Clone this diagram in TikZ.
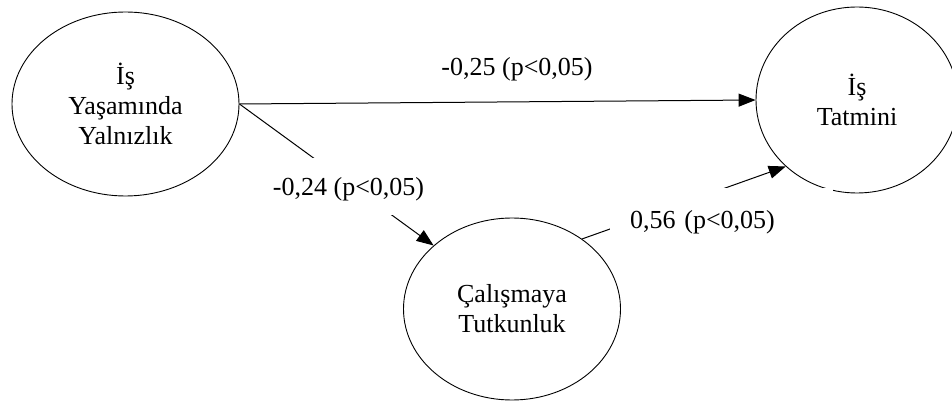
\documentclass[tikz,border=0pt]{standalone}
\usepackage{fontspec}
\setmainfont{Liberation Serif}
\usetikzlibrary{shapes.geometric,arrows.meta}
\tikzset{
  construct/.style={draw, line width=0.9pt, shape=ellipse, inner sep=0pt, align=center,
    font=\fontsize{26}{30}\selectfont},
  arr/.style={line width=1pt, -{Triangle[length=17pt,width=13pt]}},
  coef/.style={font=\fontsize{26}{30}\selectfont, inner sep=0pt},
  coefbox/.style={coef, fill=white, text height=21pt, text depth=2pt}
}
\begin{document}
\begin{tikzpicture}[x=1pt,y=-1pt]
\useasboundingbox (0,0) rectangle (952,403);
\node[construct, minimum width=227pt, minimum height=184pt] (L) at (125.5,104) {İş\\Yaşamında\\Yalnızlık};
\node[construct, minimum width=202pt, minimum height=186pt] (R) at (857,100) {İş\\Tatmini};
\node[construct, minimum width=217pt, minimum height=182pt] (C) at (512,309) {Çalışmaya\\Tutkunluk};
\draw[arr] (L.east) -- (R.west);
\draw[arr] (L.east) -- (C.141);
\draw[arr] (C.45) -- (R.223);
\node[coef, anchor=base] (lab1) at (517,76) {-0,25 (p<0,05)};
\node[coefbox, anchor=base, inner xsep=6pt, inner ysep=17pt] (lab2) at (348.5,196) {-0,24 (p<0,05)};
\node[coefbox, anchor=north west, inner xsep=20pt, inner ysep=19pt, text width=183pt, align=left] (lab3) at (610,188) {0,56 (p<0,05)};
\end{tikzpicture}
\end{document}
